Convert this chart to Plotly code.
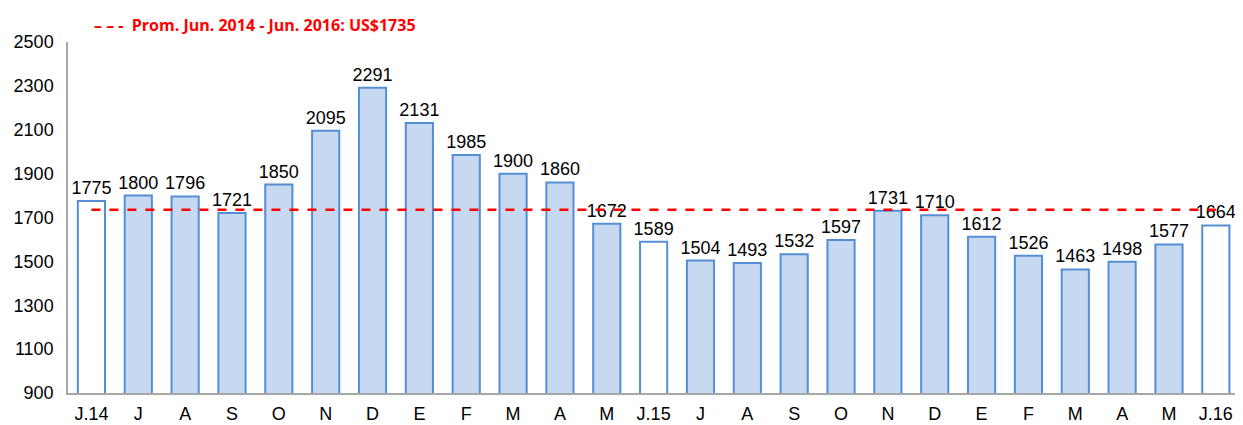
import plotly.graph_objects as go

# monthly values, Jun 2014 - Jun 2016
months = ["J.14", "J", "A", "S", "O", "N", "D", "E", "F", "M", "A", "M",
          "J.15", "J", "A", "S", "O", "N", "D", "E", "F", "M", "A", "M", "J.16"]
values = [1775, 1800, 1796, 1721, 1850, 2095, 2291, 2131, 1985, 1900, 1860, 1672,
          1589, 1504, 1493, 1532, 1597, 1731, 1710, 1612, 1526, 1463, 1498, 1577, 1664]
average = 1735
avg_label = "Prom. Jun. 2014 - Jun. 2016: US$1735"
y_ticks = [900, 1100, 1300, 1500, 1700, 1900, 2100, 2300, 2500]

xpos = list(range(len(months)))
fills = ["white" if m.startswith("J.") else "#C6D9F1" for m in months]

fig = go.Figure()
fig.add_trace(go.Bar(
    x=xpos, y=values,
    marker=dict(color=fills, line=dict(color="#558ED5", width=2)),
    width=0.58,
    text=[str(v) for v in values], textposition="outside",
    constraintext="none",
    textfont=dict(family="Liberation Sans, Arial", size=18, color="black"),
    cliponaxis=False,
    showlegend=False,
))
fig.add_trace(go.Scatter(
    x=xpos, y=[average] * len(xpos),
    mode="lines",
    line=dict(color="#FF0000", width=2.5, dash="dash"),
    showlegend=False,
))

# legend-like caption at the top
fig.add_annotation(
    text="<b>– – -  " + avg_label + "</b>",
    xref="paper", yref="paper", x=0.02, y=1.0, yshift=17,
    xanchor="left", yanchor="middle", showarrow=False,
    font=dict(family="Open Sans, Arial", size=16, color="#FF0000"),
)

# page body adds an 8px offset, so the figure is a bit smaller than the window
fig.update_layout(
    width=1235, height=417,
    margin=dict(l=60, r=0, t=34, b=32),
    plot_bgcolor="white", paper_bgcolor="white",
    font=dict(family="Liberation Sans, Arial", size=18, color="black"),
    xaxis=dict(tickvals=xpos, ticktext=months, range=[-0.5, len(months) - 0.42],
               showline=True, linecolor="#A6A6A6", linewidth=1.5,
               ticks="", showgrid=False, zeroline=False, ticklabelstandoff=4),
    yaxis=dict(range=[900, 2500], tickvals=y_ticks,
               showline=True, linecolor="#A6A6A6", linewidth=1.5,
               ticks="", showgrid=False, zeroline=False, ticklabelstandoff=9),
)

fig.write_html("out.html")
